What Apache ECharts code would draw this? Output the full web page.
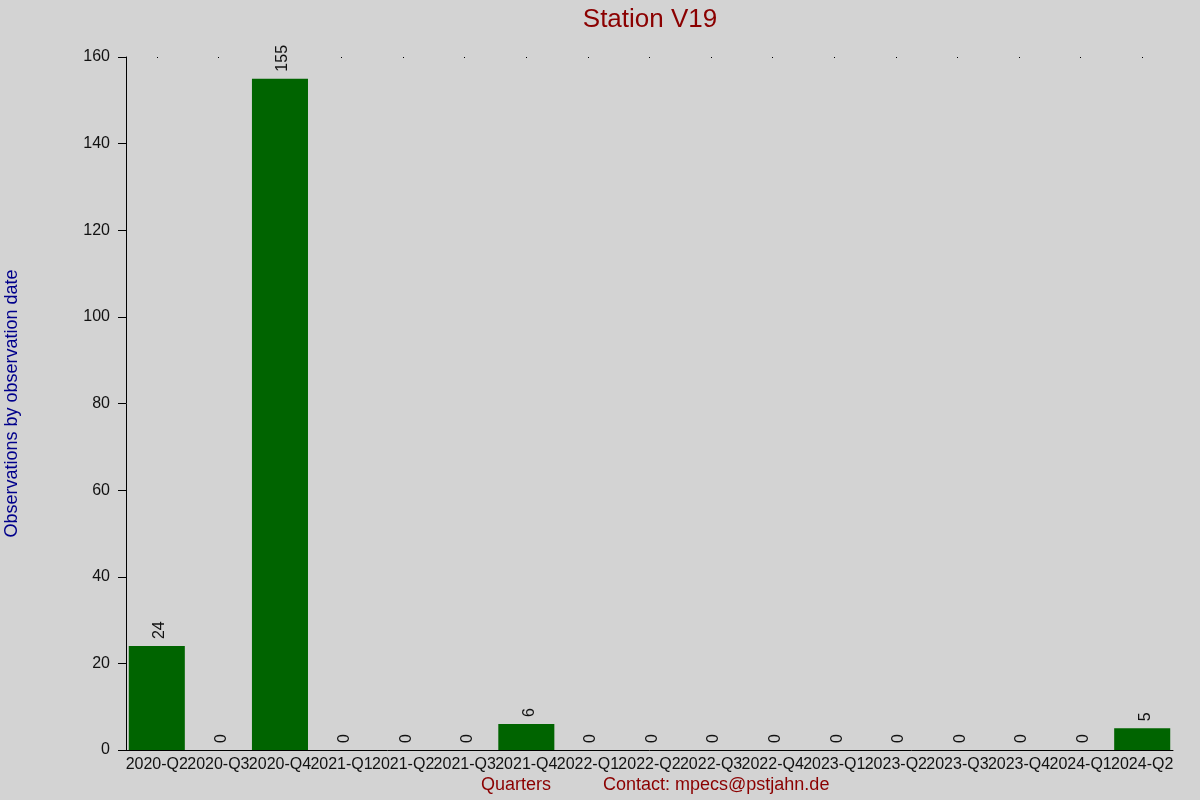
<!DOCTYPE html>
<html><head><meta charset="utf-8">
<script src="https://cdn.jsdelivr.net/npm/echarts@6/dist/echarts.min.js"></script>
<style>html,body{margin:0;padding:0;background:#d3d3d3}#c{width:1200px;height:800px}</style>
</head><body><div id="c"></div>
<script>
const categories = ['2020-Q2','2020-Q3','2020-Q4','2021-Q1','2021-Q2','2021-Q3','2021-Q4','2022-Q1','2022-Q2','2022-Q3','2022-Q4','2023-Q1','2023-Q2','2023-Q3','2023-Q4','2024-Q1','2024-Q2'];
const observations = [24,0,155,0,0,0,6,0,0,0,0,0,0,0,0,0,5];
const titleText = 'Station V19';
const yName = 'Observations by observation date';
const xName = 'Quarters';
const contactText = 'Contact: mpecs@pstjahn.de';

const font = 'Liberation Sans, Arial, sans-serif';
const chart = echarts.init(document.getElementById('c'));
chart.setOption({
  backgroundColor: '#d3d3d3',
  animation: false,
  textStyle: { fontFamily: font },
  title: { text: titleText, left: 645, top: 2, textAlign: 'center',
    textStyle: { color: '#8b0000', fontSize: 26, fontWeight: 'normal', fontFamily: font } },
  grid: { left: 126, right: 27, top: 57, bottom: 50, containLabel: false, outerBoundsMode: 'none' },
  xAxis: [{
    type: 'category', data: categories,
    axisLine: { show: true, lineStyle: { color: '#000', width: 1 } },
    axisTick: { show: false },
    axisLabel: { interval: 0, hideOverlap: false, color: '#111', fontSize: 16, margin: 7, fontFamily: font }
  }, {
    type: 'category', data: categories, position: 'top',
    axisLine: { show: false },
    axisTick: { show: true, alignWithLabel: true, length: 1, inside: true, lineStyle: { color: '#000', width: 1 } },
    axisLabel: { show: false }
  }],
  yAxis: {
    type: 'value', min: 0, max: 160, interval: 20,
    name: yName, nameLocation: 'middle', nameGap: 105,
    nameTextStyle: { color: '#00008b', fontSize: 18, fontFamily: font },
    axisLine: { show: true, lineStyle: { color: '#000', width: 1 } },
    axisTick: { show: true, length: 8, lineStyle: { color: '#000' } },
    axisLabel: { color: '#111', fontSize: 16, margin: 16, fontFamily: font },
    splitLine: { show: false }
  },
  series: [{
    type: 'bar', data: observations, xAxisIndex: 0,
    barCategoryGap: '9%',
    itemStyle: { color: '#006400' },
    label: { show: true, position: 'top', rotate: 90, distance: 7, color: '#111', fontSize: 16,
      align: 'left', verticalAlign: 'middle', offset: [0, 3], fontFamily: font }
  }],
  graphic: [
    { type: 'text', left: 481, top: 776, style: { text: xName, fill: '#8b0000', font: '18px ' + font } },
    { type: 'text', left: 603, top: 776, style: { text: contactText, fill: '#8b0000', font: '18px ' + font } }
  ]
});
</script></body></html>
